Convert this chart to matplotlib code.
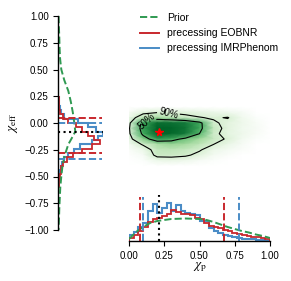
import numpy as np
import matplotlib
matplotlib.use('Agg')
import matplotlib.pyplot as plt
from matplotlib.colors import LinearSegmentedColormap

plt.rcParams['font.family'] = ['Liberation Sans', 'DejaVu Sans']
plt.rcParams['mathtext.fontset'] = 'stix'

red = '#c8282d'
blue = '#4a8cc6'
green = '#2f9a52'

# injected values
inj_chi_p = 0.21
inj_chi_eff = -0.08

# chi_eff marginal (horizontal step hists), bin edges top -> bottom
eff_edges = np.round(np.arange(0.24, -0.6001, -0.04), 2)
eff_blue = [0.5, 1, 1.5, 3, 6, 20, 30, 38, 45, 40, 34, 22, 16, 10, 6, 4, 2.5, 2, 1, 0.5, 0.3]
eff_red = [0.2, 0.5, 1, 2, 5, 10, 18, 24, 30, 36, 42, 34, 24, 15, 9, 5, 3, 2.5, 2, 1, 0.5]
eff_prior_x = [1.0, 0.9, 0.8, 0.7, 0.6, 0.5, 0.4, 0.3, 0.2, 0.1, 0.0, -0.08, -0.15, -0.2, -0.3,
               -0.4, -0.5, -0.6, -0.7, -0.8, -0.9, -1.0]
eff_prior_w = [0.3, 0.6, 1, 1.3, 1.8, 3, 6, 10, 12.5, 14.5, 16, 17, 13, 10, 6.5,
               4.2, 3, 2, 1.5, 1, 0.7, 0.3]
eff_red_ci = [0.047, -0.28]
eff_blue_ci = [0.0, -0.335]

# chi_p marginal, 30 bins on [0, 1]
p_edges = np.linspace(0, 1, 31)
p_blue = [6, 9, 14, 18, 30, 37, 28, 33, 38, 30, 36, 30, 28, 27, 26, 20, 20, 13, 10, 8,
          6, 5, 4, 3, 2, 2, 2, 1.5, 1, 0.5]
p_red = [3, 6, 10, 14, 19, 22, 23, 25, 27, 31, 29, 27, 27, 26, 23, 22, 18, 15, 14, 13,
         11, 10, 8, 7, 6, 5, 4, 4, 3, 2]
p_prior_x = [0, 0.05, 0.1, 0.15, 0.2, 0.25, 0.3, 0.4, 0.5, 0.55, 0.6, 0.65, 0.7, 0.75,
             0.8, 0.85, 0.9, 0.95, 1.0]
p_prior_h = [2, 9, 14, 18, 20, 21, 22, 22.5, 22, 21, 19, 16.5, 14, 12, 10, 8.5, 6.5, 5, 3]
p_red_ci = [0.078, 0.674]
p_blue_ci = [0.10, 0.78]

# 2d posterior density on a coarse grid
grid_p = [0.0, 0.1, 0.2, 0.3, 0.4, 0.5, 0.6, 0.7, 0.8, 0.9, 1.0]
grid_eff = [0.15, 0.10, 0.05, 0.0, -0.05, -0.10, -0.15, -0.20, -0.25, -0.30, -0.35, -0.40]
dens = [
    [0.0, 0.0, 0.0, 0.0, 0.0, 0.0, 0.0, 0.0, 0.0, 0.0, 0.0],
    [0.04, 0.15, 0.19, 0.17, 0.15, 0.13, 0.10, 0.08, 0.05, 0.0, 0.0],
    [0.10, 0.32, 0.38, 0.32, 0.26, 0.21, 0.18, 0.21, 0.08, 0.02, 0.0],
    [0.16, 0.62, 0.90, 0.88, 0.80, 0.62, 0.23, 0.15, 0.09, 0.04, 0.0],
    [0.18, 0.66, 1.00, 0.98, 0.85, 0.62, 0.27, 0.15, 0.08, 0.05, 0.0],
    [0.17, 0.60, 0.98, 0.95, 0.80, 0.55, 0.24, 0.14, 0.09, 0.04, 0.0],
    [0.12, 0.45, 0.68, 0.62, 0.50, 0.40, 0.26, 0.18, 0.07, 0.02, 0.0],
    [0.06, 0.22, 0.36, 0.42, 0.38, 0.30, 0.20, 0.11, 0.05, 0.0, 0.0],
    [0.03, 0.10, 0.28, 0.30, 0.27, 0.22, 0.10, 0.06, 0.03, 0.0, 0.0],
    [0.01, 0.05, 0.25, 0.25, 0.23, 0.15, 0.06, 0.03, 0.0, 0.0, 0.0],
    [0.0, 0.02, 0.10, 0.12, 0.09, 0.05, 0.02, 0.0, 0.0, 0.0, 0.0],
    [0.0, 0.0, 0.0, 0.0, 0.0, 0.0, 0.0, 0.0, 0.0, 0.0, 0.0],
]
lvl90 = 0.2
lvl50 = 0.55

dens_cmap = LinearSegmentedColormap.from_list(
    'wgreen', ['#ffffff', '#d9f0d3', '#a1d99b', '#41ab5d', '#14793a', '#006428'])

W, H = 291, 281
fig = plt.figure(figsize=(W / 100, H / 100), dpi=100)
ax_l = fig.add_axes([58.3 / W, 1 - 230 / H, 45 / W, 214 / H])
ax_c = fig.add_axes([129 / W, 1 - 230 / H, 141 / W, 214 / H])
ax_b = fig.add_axes([129 / W, 1 - 241 / H, 141 / W, 46 / H])

# ---- left: chi_eff
ax_l.stairs(eff_blue, eff_edges, orientation='horizontal', color=blue, lw=1.5)
ax_l.stairs(eff_red, eff_edges, orientation='horizontal', color=red, lw=1.3)
ax_l.plot(eff_prior_w, eff_prior_x, '--', color=green, lw=1.4)
for v in eff_red_ci:
    ax_l.axhline(v, xmax=0.97, color=red, ls='--', lw=1.4)
for v in eff_blue_ci:
    ax_l.axhline(v, xmax=0.97, color=blue, ls='--', lw=1.4)
ax_l.axhline(inj_chi_eff, color='k', ls=':', lw=1.5)
ax_l.set_xlim(0, 45)
ax_l.set_ylim(-1, 1)
ax_l.set_yticks(np.arange(-1, 1.01, 0.25))
ax_l.set_xticks([])
for s in ['top', 'right', 'bottom']:
    ax_l.spines[s].set_visible(False)
ax_l.spines['left'].set_linewidth(1.0)
ax_l.tick_params(axis='y', direction='out', length=3.5, width=0.8, labelsize=7, pad=3.5)
ax_l.set_ylabel(r'$\chi_{\rm eff}$', fontsize=9.5, labelpad=3)
ax_l.patch.set_alpha(0)

# ---- centre: 2d density
Z = np.array(dens)
ax_c.pcolormesh(grid_p, grid_eff, Z, shading='gouraud', cmap=dens_cmap, vmin=0, vmax=1.0)
cs = ax_c.contour(grid_p, grid_eff, Z, levels=[lvl90, lvl50], colors='k', linewidths=0.8)
ax_c.clabel(cs, fmt={lvl90: '90%', lvl50: '50%'}, fontsize=7,
            manual=[(0.28, 0.09), (0.1, 0.03)], inline=True, inline_spacing=2)
ax_c.plot(inj_chi_p, inj_chi_eff, marker='*', color='red', ms=5.5, mec='red', lw=0)
ax_c.set_xlim(0, 1)
ax_c.set_ylim(-1, 1)
ax_c.axis('off')

# ---- bottom: chi_p
ax_b.stairs(p_blue, p_edges, color=blue, lw=1.5)
ax_b.stairs(p_red, p_edges, color=red, lw=1.3)
ax_b.plot(p_prior_x, p_prior_h, '--', color=green, lw=1.4)
for v in p_red_ci:
    ax_b.axvline(v, ymax=0.96, color=red, ls='--', lw=1.4)
for v in p_blue_ci:
    ax_b.axvline(v, ymax=0.96, color=blue, ls='--', lw=1.4)
ax_b.axvline(inj_chi_p, color='k', ls=':', lw=1.5)
ax_b.set_xlim(0, 1)
ax_b.set_ylim(0, 46)
ax_b.set_xticks(np.arange(0, 1.01, 0.25))
ax_b.set_yticks([])
for s in ['top', 'right', 'left']:
    ax_b.spines[s].set_visible(False)
ax_b.spines['bottom'].set_linewidth(1.0)
ax_b.tick_params(axis='x', direction='out', length=3.5, width=0.8, labelsize=7, pad=3.5)
ax_b.set_xlabel(r'$\chi_{\rm p}$', fontsize=9.5, labelpad=0)
ax_b.patch.set_alpha(0)

# ---- legend
handles = [plt.Line2D([], [], color=green, ls='--', lw=1.4),
           plt.Line2D([], [], color=red, lw=1.4),
           plt.Line2D([], [], color=blue, lw=1.4)]
fig.legend(handles, ['Prior', 'precessing EOBNR', 'precessing IMRPhenom'],
           loc='upper left', bbox_to_anchor=(140 / W, 1 - 13 / H), frameon=False,
           fontsize=7.5, handlelength=1.8, handletextpad=0.8, labelspacing=0.5,
           borderpad=0, borderaxespad=0)

fig.savefig('out.png', dpi=100)
